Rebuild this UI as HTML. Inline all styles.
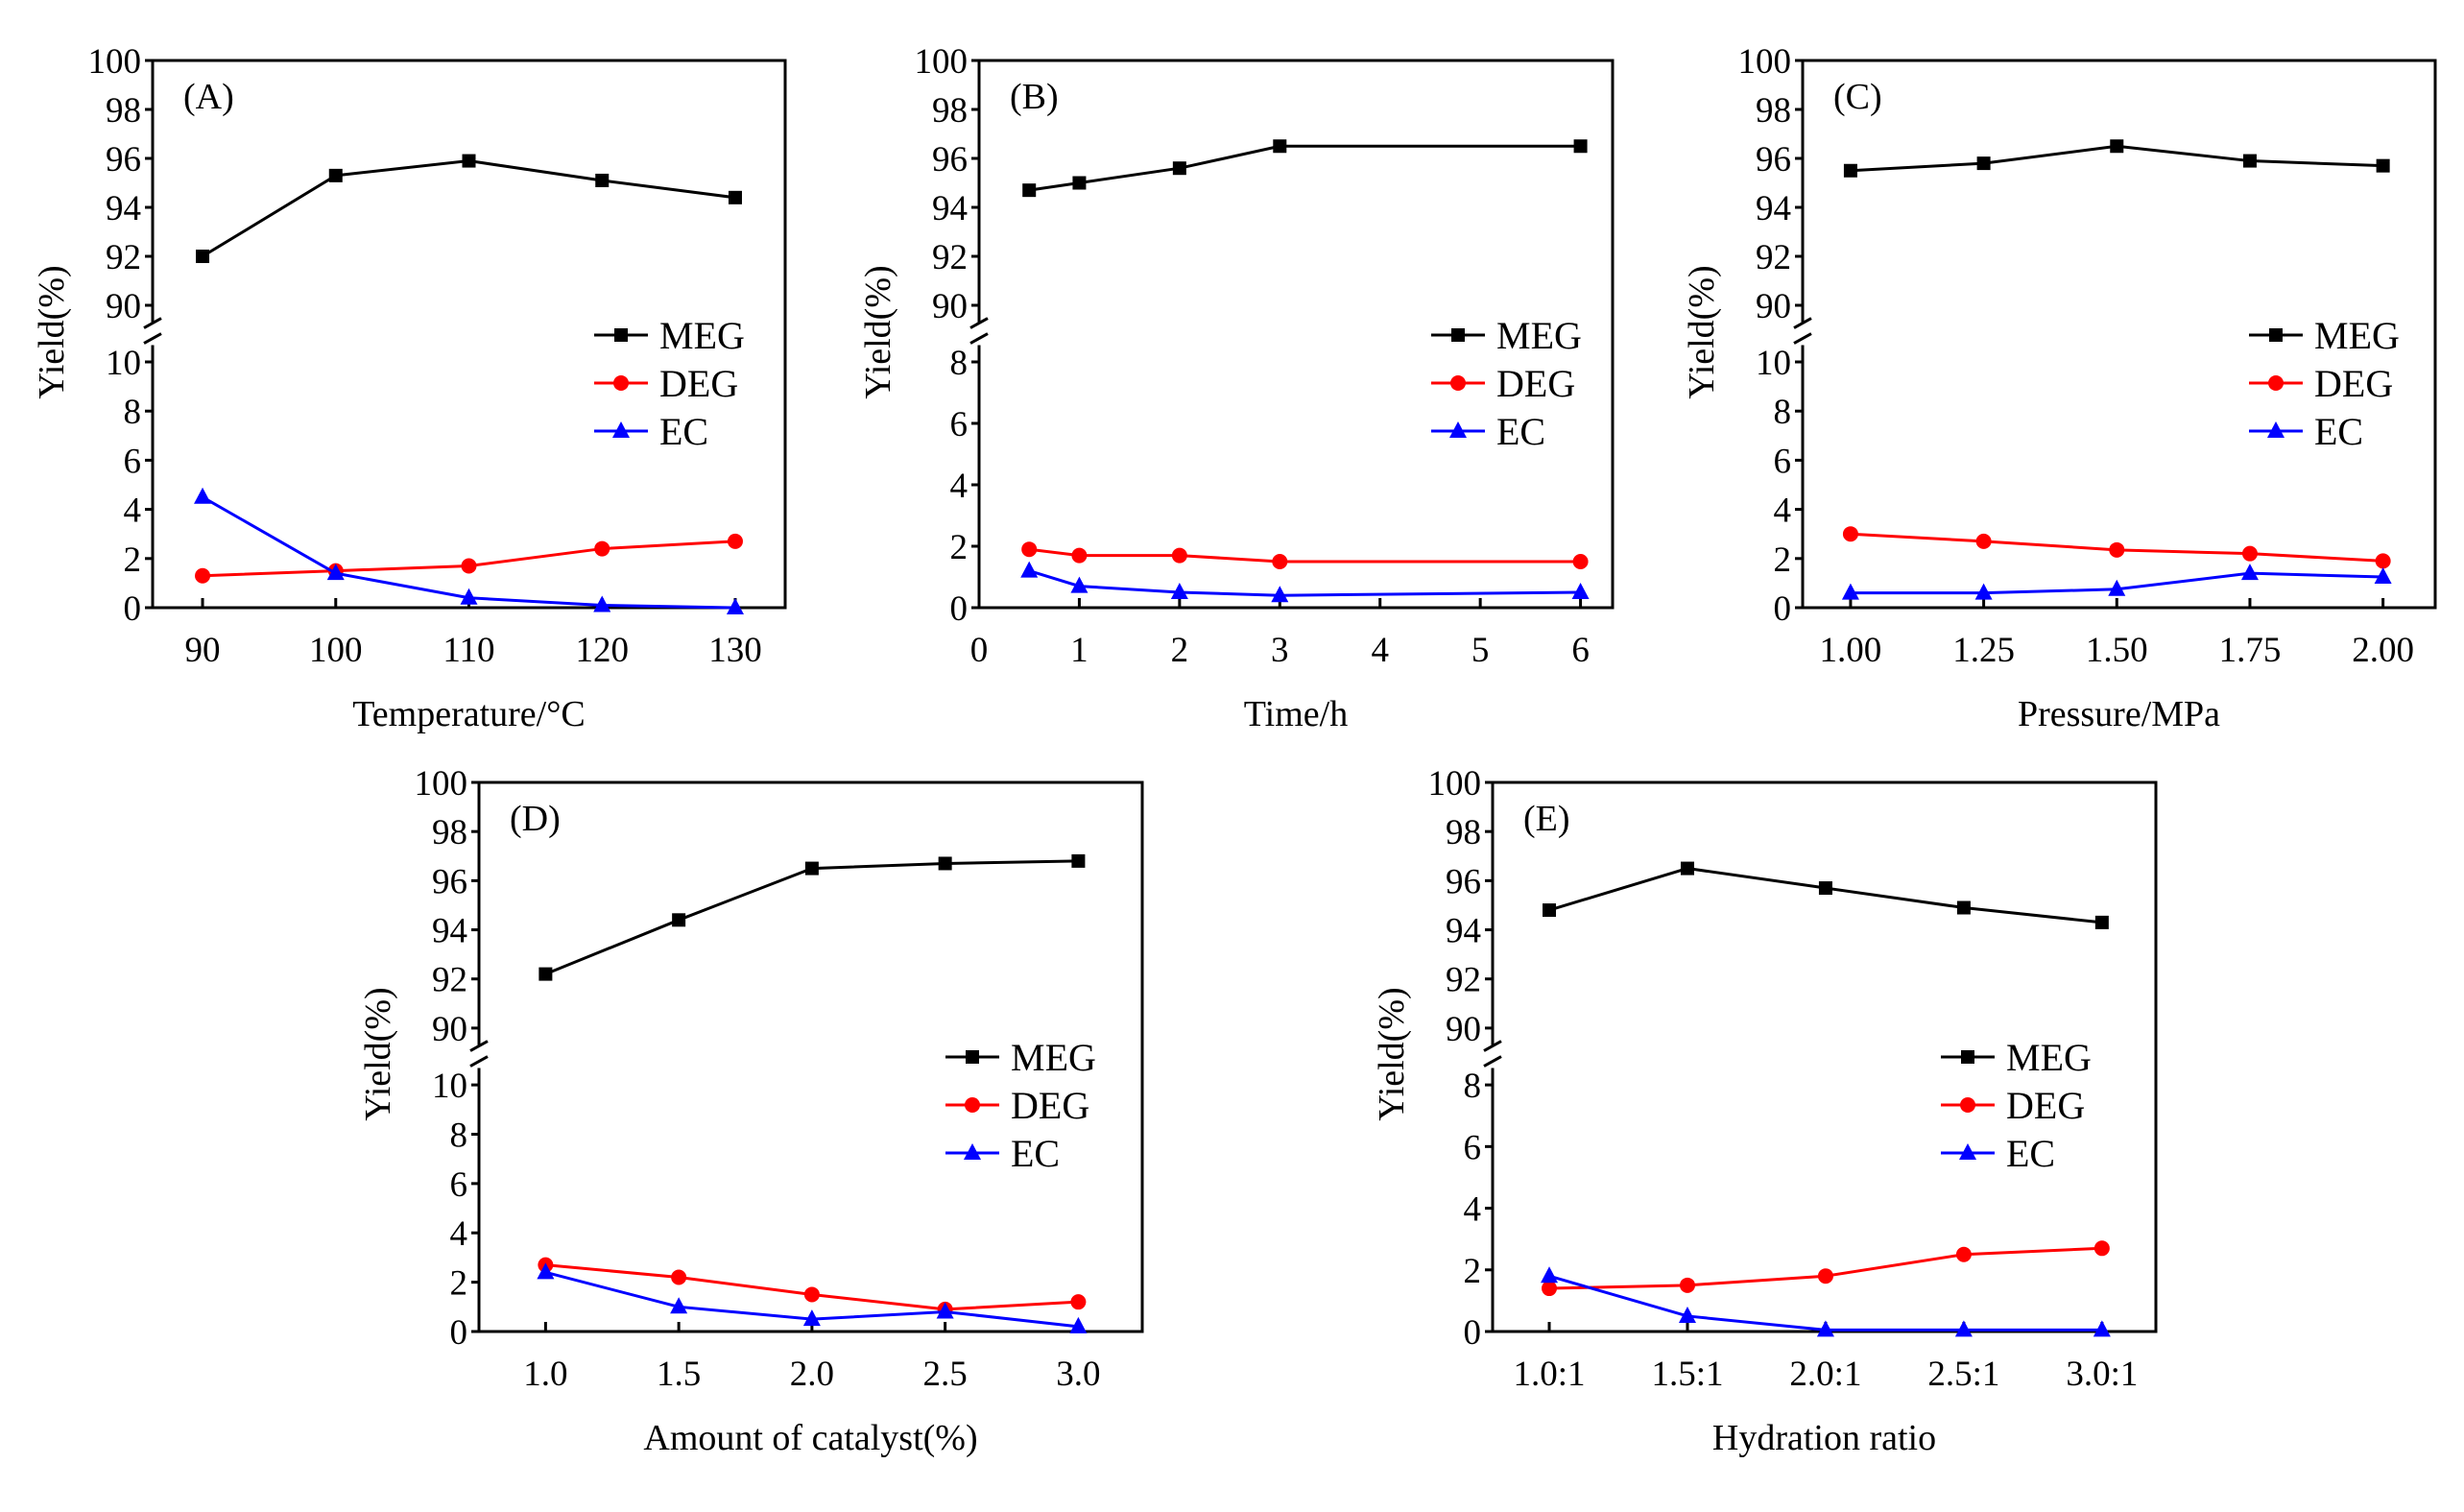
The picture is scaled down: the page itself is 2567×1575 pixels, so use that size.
<!DOCTYPE html>
<html><head><meta charset="utf-8">
<style>
html,body{margin:0;padding:0;background:#fff;}
svg{display:block;}
text{font-family:"Liberation Serif",serif;fill:#000;}
</style></head>
<body>
<svg id="fig" width="2567" height="1575" viewBox="0 0 2567 1575" xmlns="http://www.w3.org/2000/svg"></svg>
<script>
// ---- data ----
const aX = [90, 100, 110, 120, 130];
const aMEG = [92.0, 95.3, 95.9, 95.1, 94.4];
const aDEG = [1.3, 1.5, 1.7, 2.4, 2.7];
const aEC = [4.5, 1.4, 0.4, 0.1, 0.0];
const aTicks = [90, 100, 110, 120, 130];

const bX = [0.5, 1, 2, 3, 6];
const bMEG = [94.7, 95.0, 95.6, 96.5, 96.5];
const bDEG = [1.9, 1.7, 1.7, 1.5, 1.5];
const bEC = [1.2, 0.7, 0.5, 0.4, 0.5];
const bTicks = [0, 1, 2, 3, 4, 5, 6];

const cX = [1.0, 1.25, 1.5, 1.75, 2.0];
const cMEG = [95.5, 95.8, 96.5, 95.9, 95.7];
const cDEG = [3.0, 2.7, 2.35, 2.2, 1.9];
const cEC = [0.6, 0.6, 0.75, 1.4, 1.25];
const cTicks = ["1.00", "1.25", "1.50", "1.75", "2.00"];

const dX = [1.0, 1.5, 2.0, 2.5, 3.0];
const dMEG = [92.2, 94.4, 96.5, 96.7, 96.8];
const dDEG = [2.7, 2.2, 1.5, 0.9, 1.2];
const dEC = [2.4, 1.0, 0.5, 0.8, 0.2];
const dTicks = ["1.0", "1.5", "2.0", "2.5", "3.0"];

const eCats = ["1.0:1", "1.5:1", "2.0:1", "2.5:1", "3.0:1"];
const eMEG = [94.8, 96.5, 95.7, 94.9, 94.3];
const eDEG = [1.4, 1.5, 1.8, 2.5, 2.7];
const eEC = [1.8, 0.5, 0.05, 0.05, 0.05];

// ---- layout ----
const NS = "http://www.w3.org/2000/svg";
const svg = document.getElementById("fig");
function mk(tag, attrs, parent) {
  const el = document.createElementNS(NS, tag);
  for (const k in attrs) el.setAttribute(k, attrs[k]);
  (parent || svg).appendChild(el);
  return el;
}

const panels = [
  {id:"a", label:"(A)", title:"Temperature/°C", x0:159, x1:818, top:63, bottom:633, lowMax:10,
   dmin:86.25, dmax:133.75, xs:aX, ticks:aTicks.map(v=>[v, String(v)]), meg:aMEG, deg:aDEG, ec:aEC, legX:619},
  {id:"b", label:"(B)", title:"Time/h", x0:1020, x1:1680, top:63, bottom:633, lowMax:8,
   dmin:0, dmax:6.32, xs:bX, ticks:bTicks.map(v=>[v, String(v)]), meg:bMEG, deg:bDEG, ec:bEC, legX:1491},
  {id:"c", label:"(C)", title:"Pressure/MPa", x0:1878, x1:2537, top:63, bottom:633, lowMax:10,
   dmin:0.91, dmax:2.098, xs:cX, ticks:cTicks.map(v=>[parseFloat(v), v]), meg:cMEG, deg:cDEG, ec:cEC, legX:2343},
  {id:"d", label:"(D)", title:"Amount of catalyst(%)", x0:499, x1:1190, top:815, bottom:1387, lowMax:10,
   dmin:0.75, dmax:3.24, xs:dX, ticks:dTicks.map(v=>[parseFloat(v), v]), meg:dMEG, deg:dDEG, ec:dEC, legX:985},
  {id:"e", label:"(E)", title:"Hydration ratio", x0:1555, x1:2246, top:815, bottom:1387, lowMax:8,
   dmin:-0.41, dmax:4.39, xs:eCats.map((c,i)=>i), ticks:eCats.map((c,i)=>[i, c]), meg:eMEG, deg:eDEG, ec:eEC, legX:2022}
];

panels.forEach(p => {
  const g = mk("g", {});
  
  
  const H = p.bottom - p.top;
  const y90 = p.top + H * 0.4474;
  const yLowTop = p.top + H * 0.5509;
  const upS = (y90 - p.top) / 10;
  const loS = (p.bottom - yLowTop) / p.lowMax;
  const yMap = v => v >= 50 ? p.top + (100 - v) * upS : p.bottom - v * loS;
  const xMap = v => p.x0 + (v - p.dmin) / (p.dmax - p.dmin) * (p.x1 - p.x0);
  const brk = (y90 + yLowTop) / 2;

  const fr = mk("path", {d:`M${p.x0},${brk-12} L${p.x0},${p.top} L${p.x1},${p.top} L${p.x1},${p.bottom} L${p.x0},${p.bottom} L${p.x0},${brk+12}`,
    fill:"none", stroke:"#000", "stroke-width":3}, g);
  
  
  const bm = mk("path", {d:`M${p.x0-9},${brk-6} L${p.x0+9},${brk-16} M${p.x0-9},${brk+10} L${p.x0+9},${brk}`,
    fill:"none", stroke:"#000", "stroke-width":3}, g);
  
  

  const yt = [];
  for (let v = 90; v <= 100; v += 2) yt.push(v);
  for (let v = 0; v <= p.lowMax; v += 2) yt.push(v);
  yt.forEach(v => {
    const y = yMap(v);
    const t = mk("line", {x1:p.x0-8, x2:p.x0, y1:y, y2:y, stroke:"#000", "stroke-width":3}, g);
    
    
    const l = mk("text", {x:p.x0-12, y:y+13, "text-anchor":"end", "font-size":37}, g);
    l.textContent = v;
    
    
  });
  p.ticks.forEach(([v, s]) => {
    const x = xMap(v);
    const t = mk("line", {x1:x, x2:x, y1:p.bottom, y2:p.bottom-10, stroke:"#000", "stroke-width":3}, g);
    
    
    const l = mk("text", {x:x, y:p.bottom+56, "text-anchor":"middle", "font-size":37}, g);
    l.textContent = s;
    
    
  });
  const xt = mk("text", {x:(p.x0+p.x1)/2, y:p.bottom+123, "text-anchor":"middle", "font-size":38}, g);
  xt.textContent = p.title;
  
  
  const yx = p.x0 - 93, yy = p.top + 283;
  const ytl = mk("text", {x:yx, y:yy, "text-anchor":"middle", "font-size":38, transform:`rotate(-90 ${yx} ${yy})`}, g);
  ytl.textContent = "Yield(%)";
  
  
  const pl = mk("text", {x:p.x0+32, y:p.top+50, "font-size":38}, g);
  pl.textContent = p.label;
  
  

  const series = [
    {name:"MEG", vals:p.meg, color:"#000", marker:"square"},
    {name:"DEG", vals:p.deg, color:"#f00", marker:"circle"},
    {name:"EC", vals:p.ec, color:"#00f", marker:"triangle"}
  ];
  function marker(kind, x, y, color, parent) {
    let m;
    if (kind === "square") m = mk("rect", {x:x-7, y:y-7, width:14, height:14, fill:color}, parent);
    else if (kind === "circle") m = mk("circle", {cx:x, cy:y, r:8, fill:color}, parent);
    else m = mk("polygon", {points:`${x},${y-10} ${x-9},${y+7} ${x+9},${y+7}`, fill:color}, parent);
    return m;
  }
  series.forEach(s => {
    const pts = s.vals.map((v, i) => [xMap(p.xs[i]), yMap(v)]);
    const ln = mk("polyline", {points:pts.map(q=>q.join(",")).join(" "), fill:"none", stroke:s.color, "stroke-width":3}, g);
    
    
    pts.forEach(q => {
      const m = marker(s.marker, q[0], q[1], s.color, g);
      
      
    });
  });
  series.forEach((s, i) => {
    const ly = p.top + 286 + i * 50;
    const ll = mk("line", {x1:p.legX, x2:p.legX+56, y1:ly, y2:ly, stroke:s.color, "stroke-width":3}, g);
    
    
    const lm = marker(s.marker, p.legX+28, ly, s.color, g);
    
    
    const lt = mk("text", {x:p.legX+68, y:ly+14, "font-size":40}, g);
    lt.textContent = s.name;
    
    
  });
});
</script>
</body></html>
